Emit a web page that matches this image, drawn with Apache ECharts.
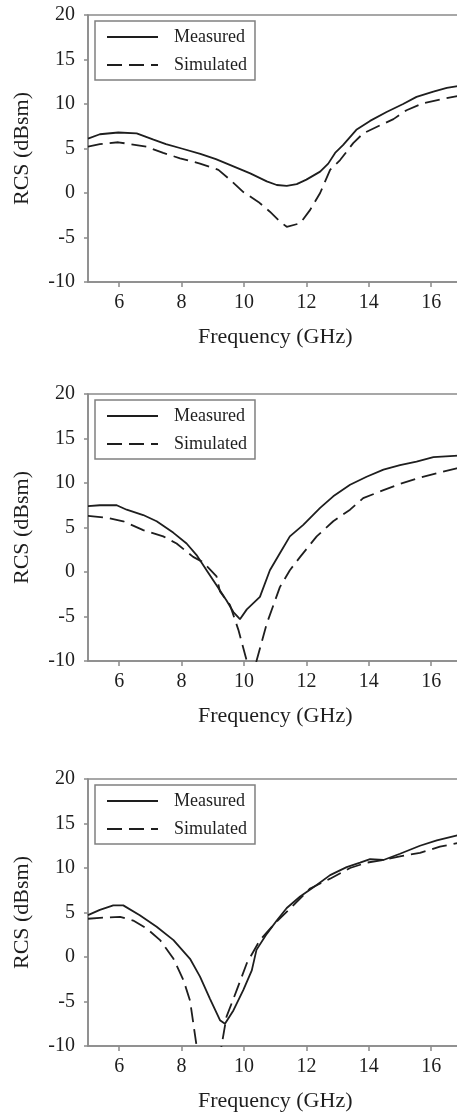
<!DOCTYPE html>
<html>
<head>
<meta charset="utf-8">
<script src="https://cdn.jsdelivr.net/npm/echarts@6/dist/echarts.min.js"></script>
<style>
  html, body { margin: 0; padding: 0; background: #fff; overflow: hidden; }
  #chart { width: 470px; height: 1115px; }
</style>
</head>
<body>
<div id="chart"></div>
<script>
// panel 1
const freqMeas1 = [5.0, 5.38, 5.97, 6.56, 7.1, 7.5, 8.0, 8.6, 9.1, 9.66, 10.2, 10.73, 11.05, 11.37, 11.69, 12.0, 12.44, 12.7, 12.92, 13.18, 13.6, 14.04, 14.57, 15.1, 15.53, 16.07, 16.5, 17.0]
const rcsMeas1 = [6.1, 6.6, 6.8, 6.7, 6.0, 5.5, 5.0, 4.4, 3.8, 3.0, 2.2, 1.3, 0.9, 0.8, 1.0, 1.5, 2.4, 3.3, 4.5, 5.4, 7.1, 8.1, 9.1, 10.0, 10.8, 11.4, 11.8, 12.1]
const freqSim1 = [5.0, 5.38, 5.97, 6.88, 7.41, 7.95, 8.59, 9.18, 9.55, 9.98, 10.46, 10.83, 11.15, 11.37, 11.8, 12.12, 12.44, 12.76, 13.08, 13.5, 13.82, 14.36, 14.79, 15.21, 15.75, 16.28, 17.0]
const rcsSim1 = [5.2, 5.5, 5.7, 5.2, 4.5, 3.9, 3.3, 2.6, 1.5, 0.1, -1.0, -2.1, -3.2, -3.8, -3.4, -1.9, 0.0, 2.6, 3.7, 5.6, 6.7, 7.6, 8.3, 9.3, 10.1, 10.5, 11.0]

// panel 2
const freqMeas2 = [5.0, 5.38, 5.92, 6.24, 6.77, 7.2, 7.74, 8.16, 8.48, 8.8, 9.12, 9.44, 9.66, 9.87, 10.09, 10.51, 10.83, 11.15, 11.47, 11.9, 12.44, 12.86, 13.4, 13.93, 14.47, 15.0, 15.53, 16.07, 17.0]
const rcsMeas2 = [7.4, 7.5, 7.5, 7.0, 6.4, 5.7, 4.4, 3.2, 1.9, 0.2, -1.5, -3.2, -4.5, -5.3, -4.2, -2.8, 0.2, 2.1, 4.0, 5.3, 7.2, 8.5, 9.8, 10.7, 11.5, 12.0, 12.4, 12.9, 13.1]
const freqSim2 = [5.0, 5.6, 6.13, 6.77, 7.41, 7.84, 8.37, 8.69, 9.12, 9.23, 9.55, 9.82, 10.09, 10.25, 10.4, 10.73, 11.15, 11.47, 11.8, 12.33, 12.86, 13.4, 13.82, 14.47, 15.0, 15.64, 16.28, 17.0]
const rcsSim2 = [6.3, 6.1, 5.7, 4.7, 4.0, 3.2, 1.7, 1.1, -0.5, -2.2, -3.7, -6.5, -10.0, -11.5, -10.0, -5.8, -1.7, 0.2, 1.7, 4.0, 5.7, 7.0, 8.3, 9.2, 9.9, 10.6, 11.2, 11.8]

// panel 3
const freqMeas3 = [5.0, 5.38, 5.81, 6.13, 6.66, 7.2, 7.74, 8.27, 8.59, 8.91, 9.23, 9.39, 9.66, 9.98, 10.25, 10.4, 10.73, 11.05, 11.37, 11.8, 12.33, 12.76, 13.29, 13.72, 14.04, 14.47, 15.0, 15.64, 16.18, 17.0]
const rcsMeas3 = [4.7, 5.3, 5.8, 5.8, 4.7, 3.4, 1.9, -0.2, -2.2, -4.7, -7.1, -7.5, -6.0, -3.7, -1.5, 0.8, 2.6, 4.1, 5.5, 6.8, 8.1, 9.2, 10.1, 10.6, 11.0, 10.9, 11.6, 12.5, 13.1, 13.8]
const freqSim3 = [5.0, 5.38, 6.03, 6.45, 6.88, 7.31, 7.74, 8.06, 8.27, 8.48, 8.65, 9.1, 9.28, 9.44, 9.77, 10.09, 10.51, 11.05, 11.58, 12.12, 12.76, 13.4, 13.93, 14.47, 15.0, 15.64, 16.28, 17.0]
const rcsSim3 = [4.3, 4.4, 4.5, 4.1, 3.2, 1.9, -0.2, -2.6, -4.9, -10.0, -14.0, -14.0, -10.0, -6.7, -3.7, -0.7, 1.9, 4.0, 5.8, 7.7, 8.8, 10.0, 10.6, 10.9, 11.3, 11.7, 12.4, 12.9]

const xTicks = [6, 8, 10, 12, 14, 16]
const seriesNames = ['Measured', 'Simulated']

const font = "'Liberation Serif', 'Times New Roman', serif"
const ink = '#1e1e1e'
const axisGray = '#8a8a8a'
const gridTops = [15, 394, 779]

const zip = (xs, ys) => xs.map((x, i) => [x, ys[i]])

const panels = [
  [zip(freqMeas1, rcsMeas1), zip(freqSim1, rcsSim1)],
  [zip(freqMeas2, rcsMeas2), zip(freqSim2, rcsSim2)],
  [zip(freqMeas3, rcsMeas3), zip(freqSim3, rcsSim3)]
]

const grid = []
const xAxis = []
const yAxis = []
const legend = []
const series = []

gridTops.forEach((top, i) => {
  grid.push({
    left: 88,
    top: top,
    width: 374.4,
    height: 267,
    show: true,
    borderColor: axisGray,
    borderWidth: 1.5,
    backgroundColor: 'transparent'
  })
  xAxis.push({
    type: 'value',
    gridIndex: i,
    min: 5,
    max: 17,
    name: 'Frequency (GHz)',
    nameLocation: 'middle',
    nameGap: 44,
    nameTextStyle: { fontFamily: font, fontSize: 22, color: ink },
    axisLine: { show: true, onZero: false, lineStyle: { color: axisGray, width: 1.5 } },
    axisTick: { show: true, length: 5, customValues: xTicks, lineStyle: { color: axisGray, width: 1.5 } },
    axisLabel: { customValues: xTicks, margin: 11, fontFamily: font, fontSize: 20, color: ink },
    splitLine: { show: false }
  })
  yAxis.push({
    type: 'value',
    gridIndex: i,
    min: -10,
    max: 20,
    interval: 5,
    name: 'RCS (dBsm)',
    nameLocation: 'middle',
    nameGap: 55,
    nameTextStyle: { fontFamily: font, fontSize: 22, color: ink },
    axisLine: { show: true, onZero: false, lineStyle: { color: axisGray, width: 1.5 } },
    axisTick: { show: true, length: 4, lineStyle: { color: axisGray, width: 1.5 } },
    axisLabel: { margin: 13, fontFamily: font, fontSize: 20, color: ink },
    splitLine: { show: false }
  })
  legend.push({
    orient: 'vertical',
    left: 95,
    top: top + 6,
    padding: [7, 8, 6, 11],
    itemWidth: 51,
    itemHeight: 14,
    itemGap: 10,
    borderColor: '#808080',
    borderWidth: 1.5,
    borderRadius: 0,
    itemStyle: { color: 'transparent', borderWidth: 0, opacity: 0 },
    data: seriesNames.map(n => n + ' ' + (i + 1)),
    formatter: name => name.split(' ')[0],
    textStyle: { fontFamily: font, fontSize: 18, color: ink, padding: [0, 0, 0, 11] }
  })
  panels[i].forEach((d, k) => {
    series.push({
      name: seriesNames[k] + ' ' + (i + 1),
      type: 'line',
      xAxisIndex: i,
      yAxisIndex: i,
      data: d,
      symbol: 'none',
      clip: true,
      color: ink,
      lineStyle: { color: ink, width: 1.8, type: k === 0 ? 'solid' : [15, 7] }
    })
  })
})

const chart = echarts.init(document.getElementById('chart'), null, { renderer: 'canvas' })
chart.setOption({
  animation: false,
  backgroundColor: '#fff',
  grid,
  xAxis,
  yAxis,
  legend,
  series
})
</script>
</body>
</html>
